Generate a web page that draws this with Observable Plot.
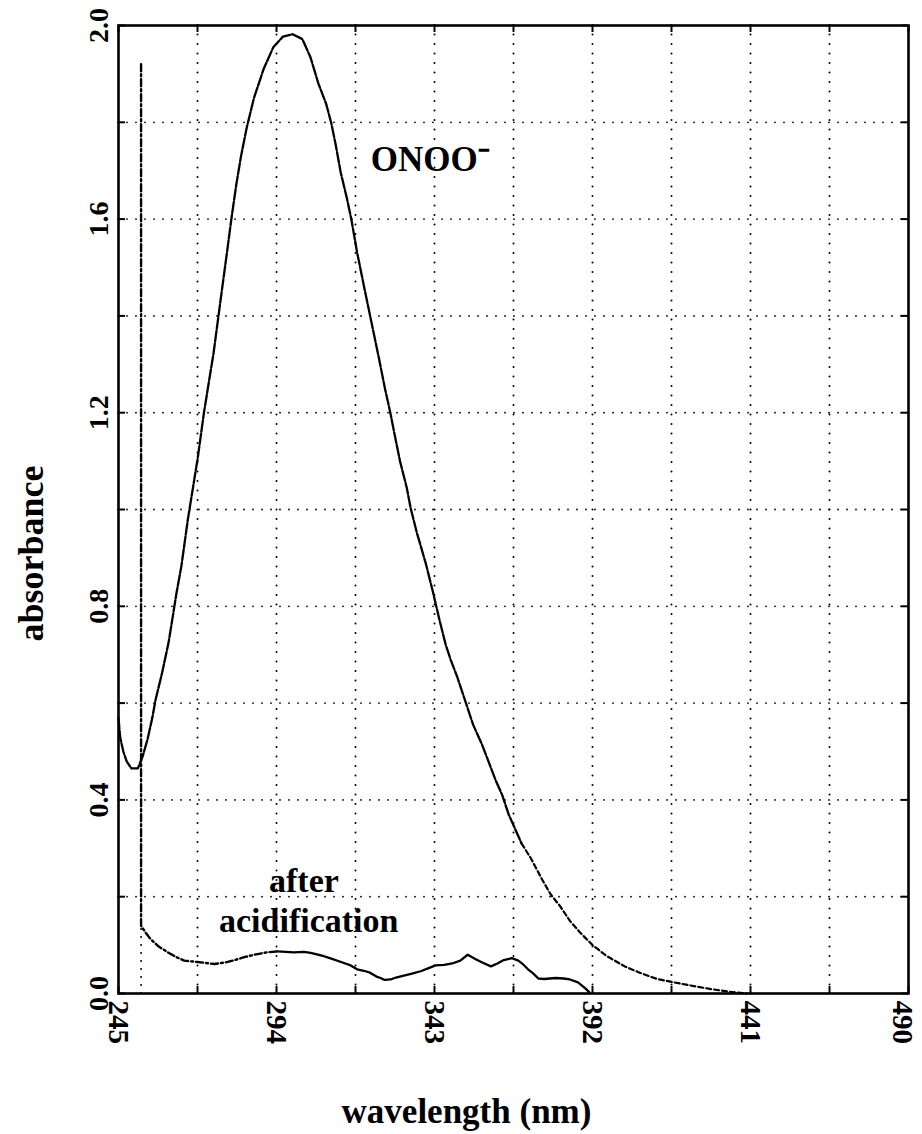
<!DOCTYPE html>
<html><head><meta charset="utf-8">
<script src="https://cdn.jsdelivr.net/npm/d3@7"></script>
<script src="https://cdn.jsdelivr.net/npm/@observablehq/plot@0.6"></script>
<style>body{margin:0;background:#fff} svg{display:block;background:#fff}</style>
</head><body><div id="chart"></div>
<script>
// ONOO- spectrum (wavelength nm, absorbance)
const onooWavelength = [245, 245.5, 246.5, 247.5, 249, 251, 252.5, 254, 255.5, 256.5, 258.5, 260.5, 262, 263, 264.5, 265.5, 266.5, 268.5, 269.5, 271.5, 273.5, 274.5, 277, 278.7, 280, 281.5, 283, 284.8, 287, 290, 293, 296, 299, 302, 304.5, 307, 309.4, 311, 312.4, 313.9, 315.9, 317.2, 319, 321.1, 322.6, 324.1, 325.6, 327.7, 329.3, 330.5, 332.3, 334.4, 335.6, 337.6, 338.5, 340.4, 342.5, 344.5, 346.5, 348, 350, 352.5, 355, 357.7, 360, 362, 364, 366, 368, 370, 373, 376, 379, 382, 385, 388, 392, 396.5, 402, 407, 412, 416.5, 422, 428, 434, 440];
const onooAbsorbance = [0.57, 0.53, 0.50, 0.48, 0.465, 0.465, 0.49, 0.525, 0.57, 0.607, 0.662, 0.724, 0.786, 0.828, 0.883, 0.931, 0.979, 1.062, 1.103, 1.2, 1.283, 1.324, 1.45, 1.534, 1.6, 1.67, 1.73, 1.79, 1.85, 1.91, 1.955, 1.977, 1.982, 1.972, 1.935, 1.88, 1.838, 1.798, 1.752, 1.697, 1.641, 1.6, 1.531, 1.462, 1.414, 1.366, 1.318, 1.248, 1.2, 1.159, 1.1, 1.045, 1.003, 0.95, 0.93, 0.886, 0.83, 0.773, 0.72, 0.69, 0.655, 0.605, 0.555, 0.515, 0.475, 0.44, 0.41, 0.37, 0.34, 0.31, 0.278, 0.24, 0.205, 0.18, 0.15, 0.127, 0.1, 0.077, 0.056, 0.042, 0.03, 0.024, 0.017, 0.01, 0.004, 0.0];

// after acidification spectrum
const acidWavelength = [252, 252, 253.5, 255, 257.5, 260.3, 263, 265.4, 269.5, 274.7, 278, 281, 284, 287, 291, 294.3, 299.4, 302.5, 304.6, 308.7, 311, 314.9, 317, 319, 321.1, 323, 325, 326.3, 327.5, 329.4, 331, 333.5, 336, 338.7, 341, 343.3, 346, 348.5, 351, 353.3, 355.5, 357.8, 360.5, 362.5, 364.5, 367, 369, 370.5, 372, 373.5, 375.2, 377, 380.6, 383, 385, 387.5, 389.5, 391];
const acidAbsorbance = [1.92, 0.14, 0.125, 0.112, 0.097, 0.085, 0.075, 0.068, 0.065, 0.061, 0.064, 0.069, 0.075, 0.08, 0.085, 0.087, 0.085, 0.086, 0.084, 0.077, 0.072, 0.063, 0.058, 0.05, 0.047, 0.043, 0.035, 0.032, 0.028, 0.029, 0.033, 0.037, 0.041, 0.046, 0.052, 0.058, 0.059, 0.062, 0.068, 0.08, 0.072, 0.064, 0.056, 0.062, 0.069, 0.073, 0.068, 0.06, 0.05, 0.042, 0.031, 0.03, 0.032, 0.031, 0.029, 0.023, 0.012, 0.003];
// dotted continuation of the acidified trace down to the baseline
const acidFootWavelength = [252];
const acidFootFrom = [0];
const acidFootTo = [0.14];

const xTickLabels = [245, 294, 343, 392, 441, 490];
const yTickLabels = [0.0, 0.4, 0.8, 1.2, 1.6, 2.0];
const xGridValues = [269.5, 294, 318.5, 343, 367.5, 392, 416.5, 441, 465.5];
const yGridValues = [0.2, 0.4, 0.6, 0.8, 1.0, 1.2, 1.4, 1.6, 1.8];
const xTickMarks = [245, 269.5, 294, 318.5, 343, 367.5, 392, 416.5, 441, 465.5, 490];
const yTickMarks = [0, 0.2, 0.4, 0.6, 0.8, 1.0, 1.2, 1.4, 1.6, 1.8, 2.0];

const labelText = ["ONOO\u207B", "after", "acidification"];
const labelWavelength = [323.2, 302.5, 304];
const labelAbsorbance = [1.70, 0.21, 0.128];

const onoo = onooWavelength.map((w, i) => ({w, a: onooAbsorbance[i]}));
const acid = acidWavelength.map((w, i) => ({w, a: acidAbsorbance[i]}));
const acidFoot = acidFootWavelength.map((w, i) => ({w, from: acidFootFrom[i], to: acidFootTo[i]}));
const labels = labelText.map((t, i) => ({t, w: labelWavelength[i], a: labelAbsorbance[i]}));

const W = 922, H = 1134, mL = 118, mR = 14, mT = 25, mB = 141;
const plotH = H - mT - mB, plotW = W - mL - mR;
const serif = "'Liberation Serif', 'Times New Roman', Times, serif";
const xMax = xTickLabels[xTickLabels.length - 1];
const xLabelStyle = {frameAnchor: "bottom", x: d => d, text: d => String(d), rotate: 90,
  textAnchor: "start", lineAnchor: "middle", dy: 7, fontSize: 29, fontWeight: "bold", fontFamily: serif, fill: "black"};

const chart = Plot.plot({
  width: W, height: H,
  marginLeft: mL, marginRight: mR, marginTop: mT, marginBottom: mB,
  style: {background: "#fff", color: "black"},
  x: {domain: [245, 490], axis: null},
  y: {domain: [0, 2], axis: null},
  marks: [
    // dotted grid
    Plot.ruleX(xGridValues, {stroke: "black", strokeWidth: 2, strokeDasharray: "0,9.5", strokeLinecap: "round"}),
    Plot.ruleY(yGridValues, {stroke: "black", strokeWidth: 1.8, strokeDasharray: "0,9", strokeLinecap: "round"}),
    // inward ticks on all sides
    Plot.ruleX(xTickMarks, {stroke: "black", strokeWidth: 2, insetTop: plotH - 7}),
    Plot.ruleX(xTickMarks, {stroke: "black", strokeWidth: 2, insetBottom: plotH - 7}),
    Plot.ruleY(yTickMarks, {stroke: "black", strokeWidth: 2, insetRight: plotW - 7}),
    Plot.ruleY(yTickMarks, {stroke: "black", strokeWidth: 2, insetLeft: plotW - 7}),
    // ONOO- trace
    Plot.line(onoo.filter(d => d.w <= 370), {x: "w", y: "a", stroke: "black", strokeWidth: 2.3, strokeDasharray: "11,2"}),
    Plot.line(onoo.filter(d => d.w >= 370), {x: "w", y: "a", stroke: "black", strokeWidth: 2.2, strokeDasharray: "5,3"}),
    // after acidification trace
    Plot.line(acid.filter(d => d.w <= 294.3), {x: "w", y: "a", stroke: "black", strokeWidth: 2.4, strokeDasharray: "7,3,2,3"}),
    Plot.line(acid.filter(d => d.w >= 294.3), {x: "w", y: "a", stroke: "black", strokeWidth: 2.3}),
    Plot.ruleX(acidFoot, {x: "w", y1: "from", y2: "to", stroke: "black", strokeWidth: 2, strokeDasharray: "0,8", strokeLinecap: "round"}),
    // frame
    Plot.frame({stroke: "black", strokeWidth: 2.6}),
    // tick labels
    Plot.text(yTickLabels, {frameAnchor: "left", y: d => d, text: d => d.toFixed(1), rotate: -90,
      textAnchor: "middle", lineAnchor: "bottom", dx: -11, fontSize: 28, fontWeight: "bold", fontFamily: serif, fill: "black"}),
    Plot.text(xTickLabels.filter(d => d !== xMax), xLabelStyle),
    Plot.text(xTickLabels.filter(d => d === xMax), {...xLabelStyle, dx: -6}),
    // axis titles
    Plot.text(["wavelength (nm)"], {frameAnchor: "bottom", text: d => d, lineAnchor: "bottom", dx: -47, dy: 129,
      fontSize: 35, fontWeight: "bold", fontFamily: serif, fill: "black"}),
    Plot.text(["absorbance"], {frameAnchor: "left", text: d => d, rotate: -90, lineAnchor: "bottom", textAnchor: "middle",
      dx: -76, dy: 44, fontSize: 36, fontWeight: "bold", fontFamily: serif, fill: "black"}),
    // annotations
    Plot.text(labels.slice(0, 1), {x: "w", y: "a", text: "t", textAnchor: "start", lineAnchor: "bottom",
      fontSize: 35, fontWeight: "bold", fontFamily: serif, fill: "black"}),
    Plot.text(labels.slice(1), {x: "w", y: "a", text: "t", textAnchor: "middle", lineAnchor: "bottom",
      fontSize: 34, fontWeight: "bold", fontFamily: serif, fill: "black"})
  ]
});
document.getElementById("chart").appendChild(chart);
</script>
</body></html>
